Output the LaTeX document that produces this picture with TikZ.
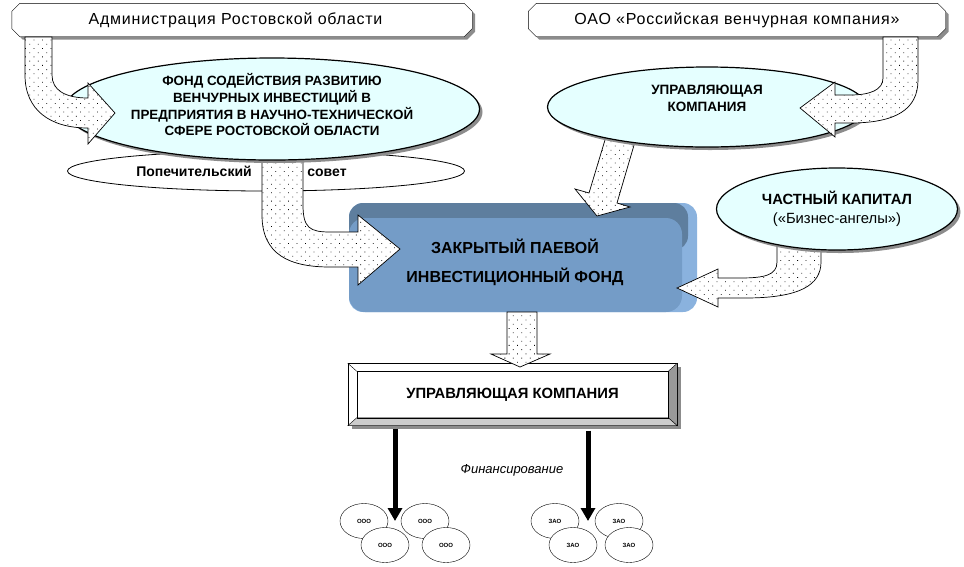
\documentclass[tikz,border=0pt]{standalone}
\usepackage{fontspec}
\setmainfont{Liberation Sans}
\usetikzlibrary{shapes.geometric,shadows,patterns.meta,arrows.meta,backgrounds}
\definecolor{paleblue}{RGB}{229,255,255}
\definecolor{fundfront}{RGB}{116,156,199}
\definecolor{fundtop}{RGB}{94,126,158}
\definecolor{fundside}{RGB}{138,178,222}

\begin{document}
\begin{tikzpicture}[x=1pt,y=-1pt,
  shade/.style={drop shadow={shadow xshift=3pt,shadow yshift=-3pt,fill=black!45,opacity=1}},
  topbox/.style={rectangle,minimum height=33pt,inner sep=0pt,font=\fontsize{16}{18}\selectfont\addfontfeature{LetterSpace=5}},
  bigoval/.style={ellipse,draw,line width=1.2pt,fill=paleblue,shade,inner sep=0pt,align=center},
  dotarrow/.style={draw,line width=0.7pt,preaction={fill=white},pattern={Dots[distance=6pt,radius=0.55pt,angle=45]}},
  firm/.style={ellipse,draw,fill=white,minimum width=48pt,minimum height=35pt,inner sep=0pt,font=\fontsize{6}{6}\selectfont\bfseries},
  finarrow/.style={line width=5pt,-{Triangle[width=14pt,length=13pt]}}]
  \useasboundingbox (0,0) rectangle (964,566);
  \node[topbox,minimum width=460pt] (adm) at (242,20) {\hspace*{-13pt}Администрация Ростовской области};
  \node[topbox,minimum width=417pt] (rvc) at (737,20) {ОАО «Российская венчурная компания»};
  \begin{scope}[on background layer]
    \foreach \n in {adm,rvc}
      \draw[fill=white,shade] ([xshift=8pt]\n.north west) -- ([xshift=-8pt]\n.north east) -- ([yshift=-8pt]\n.north east)
        -- ([yshift=8pt]\n.south east) -- ([xshift=-8pt]\n.south east) -- ([xshift=8pt]\n.south west)
        -- ([yshift=8pt]\n.south west) -- ([yshift=-8pt]\n.north west) -- cycle;
  \end{scope}

  \fill[fundside,rounded corners=14pt] (349,203) rectangle (697,312);
  \fill[fundtop,rounded corners=14pt] (349,203) rectangle (688,250);
  \fill[fundfront,rounded corners=16pt] (349,218) rectangle (682,312);
  \node[font=\fontsize{16}{29}\selectfont\bfseries,align=center] (zpif) at (515,262) {ЗАКРЫТЫЙ ПАЕВОЙ\\ИНВЕСТИЦИОННЫЙ ФОНД};

  \node[ellipse,draw,line width=0.8pt,fill=white,minimum width=397pt,minimum height=40pt] (sovet) at (266,171) {};
  \draw[dotarrow] (262,150) -- (262,215) .. controls (262,255) and (290,267) .. (330,267) -- (358,267) -- (358,285)
    -- (400,249) -- (358,215) -- (358,232) -- (330,232) .. controls (310,232) and (303,228) .. (303,205) -- (303,150) -- cycle;
  \node[anchor=base,font=\fontsize{14}{16}\selectfont\bfseries] (sovet1) at (194,176) {Попечительский};
  \node[anchor=base,font=\fontsize{14}{16}\selectfont\bfseries] (sovet2) at (327,176) {совет};

  \node[bigoval,minimum width=415pt,minimum height=102pt,font=\fontsize{13.4}{15.5}\selectfont\bfseries] (fond) at (272,109)
    {\raisebox{-1.5pt}[0pt][0pt]{\begin{tabular}{@{}c@{}}ФОНД СОДЕЙСТВИЯ РАЗВИТИЮ\\ВЕНЧУРНЫХ ИНВЕСТИЦИЙ В\\ПРЕДПРИЯТИЯ В НАУЧНО-ТЕХНИЧЕСКОЙ\\СФЕРЕ РОСТОВСКОЙ ОБЛАСТИ\end{tabular}}};
  \draw[dotarrow] (25,37) -- (25,75) .. controls (25,110) and (50,128) .. (88,128) -- (88,144) -- (115,113) -- (88,83)
    -- (88,98) .. controls (65,98) and (52,90) .. (52,75) -- (52,37) -- cycle;

  \draw[dotarrow] (608,130) -- (589,193) -- (575,189) -- (597,216) -- (630,207) -- (617,203) -- (637,135) -- cycle;
  \node[bigoval,minimum width=319pt,minimum height=80pt,font=\fontsize{13.5}{17}\selectfont\bfseries] (uk) at (707,107)
    {\raisebox{4pt}[0pt][0pt]{\begin{tabular}{@{}c@{}}УПРАВЛЯЮЩАЯ\\КОМПАНИЯ\end{tabular}}};
  \draw[dotarrow] (883,37) -- (883,78) .. controls (883,90) and (870,95) .. (850,95) -- (835,95) -- (835,82) -- (800,108)
    -- (835,137) -- (835,123) -- (850,123) .. controls (895,123) and (918,110) .. (918,80) -- (918,37) -- cycle;

  \draw[dotarrow] (777,235) -- (777,262) .. controls (777,275) and (765,278) .. (740,278) -- (718,278) -- (718,269)
    -- (677,288) -- (718,307) -- (718,298) -- (745,298) .. controls (800,298) and (821,285) .. (821,262) -- (821,235) -- cycle;
  \node[bigoval,minimum width=241pt,minimum height=82pt,font=\fontsize{14.8}{19}\selectfont] (chk) at (837,209)
    {\bfseries ЧАСТНЫЙ КАПИТАЛ\\(«Бизнес-ангелы»)};

  \fill[black!45] (352,367) rectangle (681,429);
  \node[draw,fill=white,minimum width=329pt,minimum height=62pt,inner sep=0pt,font=\fontsize{14.8}{17}\selectfont\bfseries]
    (ukrect) at (512.5,394.5) {УПРАВЛЯЮЩАЯ КОМПАНИЯ};
  \draw[fill=black!40] (ukrect.north east) -- (ukrect.south east) -- ([xshift=-9pt,yshift=8pt]ukrect.south east)
    -- ([xshift=-9pt,yshift=-8pt]ukrect.north east) -- cycle;
  \draw[fill=black!20] (ukrect.south west) -- (ukrect.south east) -- ([xshift=-9pt,yshift=8pt]ukrect.south east)
    -- ([xshift=9pt,yshift=8pt]ukrect.south west) -- cycle;
  \draw (ukrect.north west) -- ([xshift=9pt,yshift=-8pt]ukrect.north west);
  \draw ([xshift=9pt,yshift=-8pt]ukrect.north west) rectangle ([xshift=-9pt,yshift=8pt]ukrect.south east);
  \draw[dotarrow] (507,312) -- (507,354) -- (491,354) -- (520,367) -- (550,354) -- (537,354) -- (537,312) -- cycle;

  \coordinate (ltip) at (395,521);
  \coordinate (rtip) at (588,521);
  \draw[finarrow] (ukrect.south -| ltip) ++(0,3) -- (ltip);
  \draw[finarrow] (ukrect.south -| rtip) ++(0,5) -- (rtip);
  \node[font=\fontsize{13}{15}\selectfont\itshape] (fin) at (512,470) {Финансирование};

  \node[firm] (ooo1) at (364,521) {ООО};
  \node[firm] (ooo3) at (425,521) {ООО};
  \node[firm] (ooo2) at (385,545) {ООО};
  \node[firm] (ooo4) at (446,545) {ООО};
  \node[firm] (zao1) at (555,521) {ЗАО};
  \node[firm] (zao3) at (619,521) {ЗАО};
  \node[firm] (zao2) at (573,545) {ЗАО};
  \node[firm] (zao4) at (629,545) {ЗАО};
\end{tikzpicture}
\end{document}
